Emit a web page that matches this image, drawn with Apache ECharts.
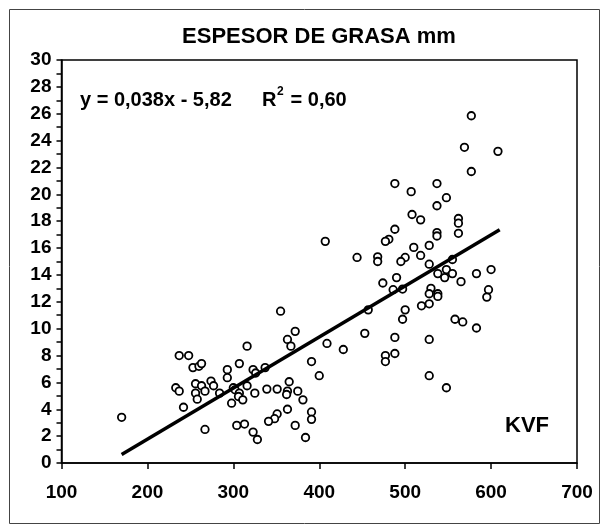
<!DOCTYPE html>
<html>
<head>
<meta charset="utf-8">
<script src="https://cdn.jsdelivr.net/npm/echarts@6/dist/echarts.min.js"></script>
<style>
html,body{margin:0;padding:0;background:#fff;}
#c{width:603px;height:527px;}
</style>
</head>
<body>
<div id="c"></div>
<script>
// Data
var kvf = [170,355,237,248,372,363,367,316,253,260,263,307,293,293,323,337,326,233,237,256,263,274,277,256,267,284,258,300,302,316,307,306,311,325,298,242,339,351,363,365,375,351,348,341,363,372,267,304,313,323,328,
500,497,519,528,409,428,453,488,477,477,488,528,528,391,400,362,381,391,391,384,457,
577,488,537,507,548,537,508,518,562,562,562,537,537,488,481,477,510,528,518,500,495,528,555,548,538,546,555,565,583,600,597,595,490,486,497,530,528,538,538,558,567,583,
407,444,468,468,474,577,569,608,548];
var grasa = [3.4,11.3,8.0,8.0,9.8,9.2,8.7,8.7,7.1,7.2,7.4,7.4,6.95,6.35,6.95,7.1,6.7,5.6,5.35,5.9,5.75,6.1,5.75,5.2,5.35,5.2,4.75,5.6,5.45,5.75,5.2,4.95,4.7,5.2,4.45,4.15,5.5,5.5,5.35,6.05,5.35,3.65,3.3,3.1,4.0,2.8,2.5,2.8,2.9,2.3,1.75,
11.4,10.7,11.7,11.85,8.9,8.45,9.65,9.35,8.0,7.55,8.15,9.2,6.5,7.55,6.5,5.1,4.7,3.8,3.25,1.9,11.4,
21.7,20.8,20.8,20.2,19.75,19.15,18.5,18.1,18.2,17.85,17.1,17.15,16.9,17.4,16.65,16.5,16.05,16.2,15.45,15.3,15.0,14.8,15.15,14.4,14.1,13.8,14.1,13.5,14.1,14.4,12.9,12.35,13.8,12.9,12.95,13.0,12.6,12.6,12.4,10.7,10.5,10.05,
16.5,15.3,15.35,15.0,13.4,25.85,23.5,23.2,5.6];
var slope = 0.038, intercept = -5.82;
var trendRange = [170, 610];
var xTicks = [100,200,300,400,500,600,700];
var yTicks = [0,2,4,6,8,10,12,14,16,18,20,22,24,26,28,30];

var points = kvf.map(function(x,i){return [x, grasa[i]];});
var trend = trendRange.map(function(x){return [x, slope*x + intercept];});

var chart = echarts.init(document.getElementById('c'), null, {renderer:'canvas'});
var F = 'Liberation Sans, Arial, sans-serif';
var B20 = 'bold 20px Liberation Sans, Arial';
chart.setOption({
  animation:false,
  backgroundColor:'#fff',
  title:{text:'ESPESOR DE GRASA mm', top:26, padding:0, left:319, textAlign:'center',
    textStyle:{fontFamily:F, fontWeight:'bold', fontSize:22, color:'#000'}},
  grid:{left:61.5, right:26, top:60, bottom:64, show:true, borderColor:'#000', borderWidth:1.5, backgroundColor:'transparent'},
  xAxis:{type:'value', min:xTicks[0], max:xTicks[xTicks.length-1], interval:100,
    axisLine:{show:true, onZero:false, lineStyle:{color:'#000', width:1.5}},
    axisTick:{show:true, inside:false, length:6, lineStyle:{color:'#000', width:1.5}},
    axisLabel:{margin:20, fontFamily:F, fontWeight:'bold', fontSize:19, color:'#000'},
    splitLine:{show:false}},
  yAxis:{type:'value', min:yTicks[0], max:yTicks[yTicks.length-1], interval:2,
    axisLine:{show:true, onZero:false, lineStyle:{color:'#000', width:1.5}},
    axisTick:{show:true, inside:false, length:5, lineStyle:{color:'#000', width:1.5}},
    minorTick:{show:true, splitNumber:2, length:5, lineStyle:{color:'#000', width:1.5}},
    axisLabel:{margin:10, fontFamily:F, fontWeight:'bold', fontSize:19, color:'#000'},
    splitLine:{show:false}},
  graphic:[
    {type:'rect', left:7, top:7, shape:{width:590, height:514}, style:{fill:'none', stroke:'#444', lineWidth:1}, z:-1},
    {type:'text', left:80, top:90, style:{text:'y = 0,038x - 5,82', font:B20, fill:'#000'}},
    {type:'text', left:262, top:90, style:{text:'R', font:B20, fill:'#000'}},
    {type:'text', left:277, top:86, style:{text:'2', font:'bold 12px Liberation Sans, Arial', fill:'#000'}},
    {type:'text', left:285, top:90, style:{text:' = 0,60', font:B20, fill:'#000'}},
    {type:'text', left:505, top:415, style:{text:'KVF', font:'bold 22px Liberation Sans, Arial', fill:'#000'}}
  ],
  series:[
    {type:'line', data:trend, symbol:'none', lineStyle:{color:'#000', width:3.5}, z:3},
    {type:'scatter', data:points, symbol:'circle', symbolSize:7.5,
      itemStyle:{color:'#fff', borderColor:'#000', borderWidth:1.8, opacity:1}, z:2}
  ]
});
</script>
</body>
</html>
